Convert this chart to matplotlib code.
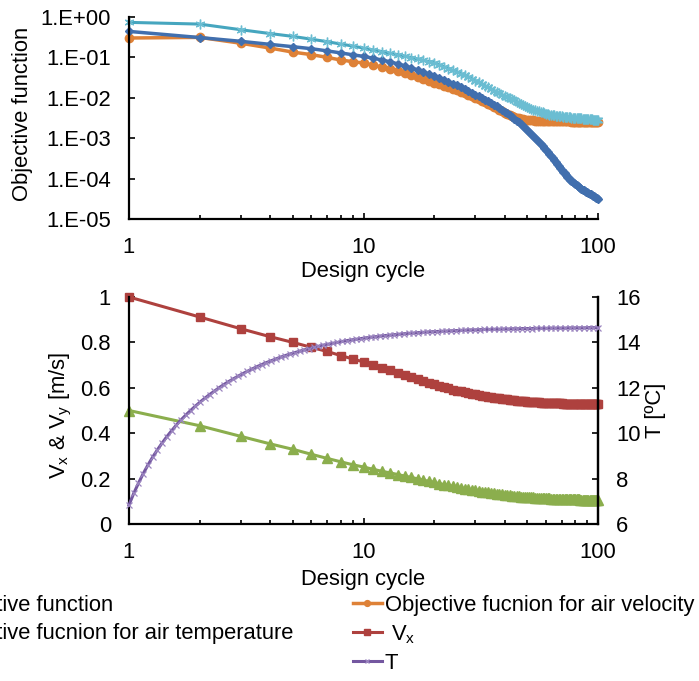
import numpy as np
import matplotlib
matplotlib.use("Agg")
import matplotlib.pyplot as plt
from matplotlib.ticker import FixedLocator, NullFormatter, FuncFormatter, LogLocator
from matplotlib.lines import Line2D

plt.rcParams['font.family'] = ['Liberation Sans', 'DejaVu Sans']
plt.rcParams['mathtext.fontset'] = 'custom'
plt.rcParams['mathtext.rm'] = 'Liberation Sans'
plt.rcParams['mathtext.it'] = 'Liberation Sans'
plt.rcParams['mathtext.default'] = 'regular'

cycles = list(range(1, 101))

# objective functions per design cycle
obj_total = [0.44, 0.31, 0.25, 0.21, 0.184, 0.164, 0.145, 0.129, 0.116, 0.106,
             0.0955, 0.086, 0.0776, 0.0692, 0.0617, 0.055, 0.049, 0.0437, 0.0385, 0.0339,
             0.0305, 0.0275, 0.0248, 0.0224, 0.0202, 0.0182, 0.0164, 0.0148, 0.0133, 0.0120,
             0.0109, 0.00991, 0.00899, 0.00817, 0.00741, 0.00673, 0.00611, 0.00555, 0.00504, 0.00457,
             0.00412, 0.00372, 0.00335, 0.00302, 0.00272, 0.00245, 0.00221, 0.00200, 0.00180, 0.00162,
             1.45e-3, 1.29e-3, 1.16e-3, 1.03e-3, 9.23e-4, 8.24e-4, 7.36e-4, 6.58e-4, 5.87e-4, 5.25e-4,
             4.68e-4, 4.17e-4, 3.72e-4, 3.31e-4, 2.95e-4, 2.63e-4, 2.34e-4, 2.09e-4, 1.86e-4, 1.66e-4,
             1.49e-4, 1.34e-4, 1.21e-4, 1.11e-4, 1.02e-4, 9.40e-5, 8.73e-5, 8.15e-5, 7.64e-5, 7.19e-5,
             6.79e-5, 6.43e-5, 6.11e-5, 5.82e-5, 5.56e-5, 5.32e-5, 5.11e-5, 4.91e-5, 4.73e-5, 4.57e-5,
             4.41e-5, 4.25e-5, 4.09e-5, 3.94e-5, 3.80e-5, 3.66e-5, 3.53e-5, 3.40e-5, 3.28e-5, 3.16e-5]

obj_velocity = [0.302, 0.313, 0.224, 0.170, 0.135, 0.117, 0.100, 0.0861, 0.0785, 0.0724,
                0.0646, 0.0575, 0.0513, 0.0462, 0.0412, 0.0367, 0.0327, 0.0292, 0.0263, 0.0234,
                0.0215, 0.0198, 0.0182, 0.0167, 0.0153, 0.0141, 0.0129, 0.0119, 0.0109, 0.0100,
                0.00918, 0.00843, 0.00774, 0.00711, 0.00653, 0.00600, 0.00551, 0.00506, 0.00465, 0.00427,
                0.00398, 0.00374, 0.00354, 0.00337, 0.00324, 0.00313, 0.00303, 0.00296, 0.00290, 0.00285,
                0.00281, 0.00278, 0.00275, 0.00273, 0.00271, 0.00269, 0.00268, 0.00267, 0.00265, 0.00264,
                0.00264, 0.00264, 0.00263, 0.00263, 0.00263, 0.00262, 0.00262, 0.00262, 0.00261, 0.00261,
                0.00261, 0.00261, 0.00260, 0.00260, 0.00260, 0.00260, 0.00259, 0.00259, 0.00259, 0.00259,
                0.00258, 0.00258, 0.00258, 0.00258, 0.00258, 0.00258, 0.00258, 0.00258, 0.00258, 0.00258,
                0.00257, 0.00257, 0.00257, 0.00257, 0.00257, 0.00257, 0.00257, 0.00257, 0.00257, 0.00257]

obj_temperature = [0.736, 0.668, 0.484, 0.389, 0.331, 0.282, 0.245, 0.214, 0.191, 0.170,
                   0.153, 0.139, 0.127, 0.117, 0.108, 0.0991, 0.0916, 0.0849, 0.0791, 0.0741,
                   0.0661, 0.0593, 0.0531, 0.0482, 0.0437, 0.0398, 0.0365, 0.0330, 0.0296, 0.0266,
                   0.0241, 0.0218, 0.0197, 0.0181, 0.0165, 0.0151, 0.0139, 0.0128, 0.0119, 0.0111,
                   0.0104, 0.0097, 0.0091, 0.0086, 0.0080, 0.0075, 0.0071, 0.0067, 0.0064, 0.0060,
                   0.00566, 0.00538, 0.00513, 0.00495, 0.00480, 0.00463, 0.00448, 0.00435, 0.00421, 0.00408,
                   0.00396, 0.00385, 0.00378, 0.00372, 0.00367, 0.00362, 0.00358, 0.00353, 0.00349, 0.00345,
                   0.00341, 0.00337, 0.00333, 0.00331, 0.00328, 0.00326, 0.00324, 0.00321, 0.00319, 0.00317,
                   0.00315, 0.00313, 0.00311, 0.00309, 0.00308, 0.00305, 0.00303, 0.00302, 0.00300, 0.00298,
                   0.00296, 0.00294, 0.00293, 0.00291, 0.00290, 0.00288, 0.00286, 0.00285, 0.00283, 0.00282]

# inlet air velocity components [m/s]
vx = [1.000, 0.912, 0.860, 0.825, 0.800, 0.778, 0.760, 0.742, 0.727, 0.714,
      0.701, 0.689, 0.678, 0.667, 0.657, 0.648, 0.639, 0.630, 0.622, 0.615,
      0.609, 0.603, 0.597, 0.592, 0.588, 0.584, 0.580, 0.577, 0.574, 0.571,
      0.568, 0.566, 0.563, 0.561, 0.559, 0.557, 0.555, 0.553, 0.552, 0.550,
      0.549, 0.547, 0.546, 0.545, 0.544, 0.543, 0.542, 0.541, 0.540, 0.539,
      0.539, 0.538, 0.537, 0.537, 0.536, 0.536, 0.535, 0.535, 0.534, 0.534,
      0.533, 0.533, 0.533, 0.532, 0.532, 0.532, 0.531, 0.531, 0.531, 0.531,
      0.530, 0.530, 0.530, 0.530, 0.529, 0.529, 0.529, 0.529, 0.529, 0.529,
      0.528, 0.528, 0.528, 0.528, 0.528, 0.528, 0.528, 0.528, 0.528, 0.528,
      0.528, 0.528, 0.527, 0.527, 0.527, 0.527, 0.527, 0.527, 0.527, 0.527]

vy = [0.500, 0.433, 0.386, 0.353, 0.329, 0.307, 0.289, 0.274, 0.261, 0.251,
      0.241, 0.232, 0.225, 0.218, 0.211, 0.205, 0.199, 0.193, 0.188, 0.183,
      0.178, 0.174, 0.170, 0.166, 0.162, 0.159, 0.156, 0.153, 0.150, 0.148,
      0.145, 0.143, 0.141, 0.139, 0.137, 0.135, 0.133, 0.132, 0.130, 0.129,
      0.127, 0.126, 0.125, 0.124, 0.123, 0.122, 0.121, 0.120, 0.119, 0.119,
      0.118, 0.117, 0.117, 0.116, 0.116, 0.115, 0.115, 0.114, 0.114, 0.113,
      0.113, 0.113, 0.112, 0.112, 0.112, 0.111, 0.111, 0.111, 0.110, 0.110,
      0.110, 0.110, 0.109, 0.109, 0.109, 0.109, 0.109, 0.108, 0.108, 0.108,
      0.108, 0.108, 0.108, 0.107, 0.107, 0.107, 0.107, 0.107, 0.107, 0.107,
      0.107, 0.107, 0.107, 0.106, 0.106, 0.106, 0.106, 0.106, 0.106, 0.106]

# inlet air temperature [C], plotted on the secondary (linear) x axis
temp = [6.84, 7.35, 7.80, 8.22, 8.60, 8.95, 9.27, 9.57, 9.85, 10.11,
        10.36, 10.59, 10.80, 11.00, 11.19, 11.37, 11.54, 11.70, 11.85, 12.00,
        12.14, 12.27, 12.39, 12.51, 12.62, 12.73, 12.83, 12.93, 13.02, 13.11,
        13.19, 13.27, 13.35, 13.42, 13.49, 13.55, 13.61, 13.67, 13.73, 13.78,
        13.83, 13.88, 13.92, 13.96, 14.00, 14.04, 14.08, 14.11, 14.14, 14.17,
        14.20, 14.23, 14.25, 14.28, 14.30, 14.32, 14.34, 14.36, 14.38, 14.40,
        14.41, 14.43, 14.44, 14.46, 14.47, 14.48, 14.49, 14.50, 14.51, 14.52,
        14.53, 14.54, 14.55, 14.55, 14.56, 14.57, 14.57, 14.58, 14.58, 14.59,
        14.59, 14.60, 14.60, 14.61, 14.61, 14.61, 14.62, 14.62, 14.62, 14.63,
        14.63, 14.63, 14.63, 14.64, 14.64, 14.64, 14.64, 14.65, 14.65, 14.65]

x_ticks = [1, 10, 100]
obj_ticks = [1e-5, 1e-4, 1e-3, 1e-2, 1e-1, 1e0]
v_ticks = [0, 0.2, 0.4, 0.6, 0.8, 1]
t_ticks = [6, 8, 10, 12, 14, 16]

c_blue = '#416FAE'
c_orange = '#DE8137'
c_teal = '#46A6BF'
c_red = '#AE413E'
c_green = '#8BAE4D'
c_purple = '#7457A0'

FS = 15.8
W, H = 699, 681
fig = plt.figure(figsize=(W / 100, H / 100), dpi=100)

def style_x(ax):
    ax.set_xscale('log')
    ax.set_xlim(1, 100)
    ax.xaxis.set_major_locator(FixedLocator(x_ticks))
    ax.xaxis.set_major_formatter(FuncFormatter(lambda v, p: '%g' % v))
    ax.xaxis.set_minor_locator(LogLocator(base=10, subs=np.arange(2, 10)))
    ax.xaxis.set_minor_formatter(NullFormatter())
    ax.tick_params(axis='x', which='major', direction='in', length=4.5, width=1.2,
                   pad=13, labelsize=FS)
    ax.tick_params(axis='x', which='minor', direction='in', length=3.2, width=1.2)
    ax.set_xlabel('Design cycle', fontsize=FS)

# ---- top: objective functions ----
ax1 = fig.add_axes([129 / W, 1 - 219 / H, 469 / W, 202 / H])
style_x(ax1)
ax1.set_yscale('log')
ax1.set_ylim(1e-5, 1)
ax1.yaxis.set_major_locator(FixedLocator(obj_ticks))
ax1.yaxis.set_major_formatter(FuncFormatter(lambda v, p: '1.E%+03d' % round(np.log10(v))))
ax1.yaxis.set_minor_locator(LogLocator(base=10, subs=np.arange(2, 10)))
ax1.yaxis.set_minor_formatter(NullFormatter())
ax1.tick_params(axis='y', which='major', direction='in', length=4.5, width=1.2,
                pad=13, labelsize=FS)
ax1.tick_params(axis='y', which='minor', direction='in', length=3, width=1.0)
for s in ['top', 'right']:
    ax1.spines[s].set_visible(False)
for s in ['left', 'bottom']:
    ax1.spines[s].set_linewidth(1.6)

l_vel, = ax1.plot(cycles, obj_velocity, color=c_orange, lw=2.5, marker='o', ms=6,
                  mec=c_orange, clip_on=False)
l_tot, = ax1.plot(cycles, obj_total, color=c_blue, lw=2.5, marker='D', ms=4.5,
                  mec=c_blue, clip_on=False)
l_tmp, = ax1.plot(cycles, obj_temperature, color=c_teal, lw=2.2, marker=(6, 2, 0), ms=7,
                  mew=1.0, mec='#6BBDD2', clip_on=False)
ax1.set_ylabel('Objective function', fontsize=FS)
ax1.yaxis.set_label_coords(-0.205, 0.52)
ax1.xaxis.set_label_coords(0.5, -0.21)

# ---- bottom: design variables ----
ax2 = fig.add_axes([129 / W, 1 - 524 / H, 469 / W, 227 / H])
style_x(ax2)
ax2.set_ylim(0, 1)
ax2.yaxis.set_major_locator(FixedLocator(v_ticks))
ax2.yaxis.set_major_formatter(FuncFormatter(lambda v, p: '%g' % v))
ax2.tick_params(axis='y', direction='in', length=4.5, width=1.2, pad=13, labelsize=FS)
ax2.spines['top'].set_visible(False)
for s in ['left', 'bottom', 'right']:
    ax2.spines[s].set_linewidth(1.6)

l_vx, = ax2.plot(cycles, vx, color=c_red, lw=2.2, marker='s', ms=6, mec=c_red, clip_on=False)
l_vy, = ax2.plot(cycles, vy, color=c_green, lw=2.2, marker='^', ms=6.5, mec=c_green, clip_on=False)
ax2.set_ylabel('$V_x$ & $V_y$ [m/s]', fontsize=FS)
ax2.yaxis.set_label_coords(-0.118, 0.48)
ax2.xaxis.set_label_coords(0.5, -0.20)

ax3 = ax2.twinx()
ax3.set_ylim(6, 16)
ax3.yaxis.set_major_locator(FixedLocator(t_ticks))
ax3.tick_params(axis='y', direction='in', length=4.5, width=1.2, pad=13, labelsize=FS)
for s in ['top', 'left', 'bottom']:
    ax3.spines[s].set_visible(False)
ax3.spines['right'].set_linewidth(1.6)
ax3.set_ylabel('T [ºC]', fontsize=FS)
ax3.yaxis.set_label_coords(1.10, 0.50)

ax4 = ax3.twiny()
ax4.set_xlim(1, 100)
ax4.xaxis.set_visible(False)
for s in ax4.spines.values():
    s.set_visible(False)
l_t, = ax4.plot(cycles, temp, color=c_purple, lw=2.2, marker='x', ms=5, mew=0.9,
                mec='#9C86C0', clip_on=False)

# ---- legend below both panels ----
handles = [l_tot, l_tmp, l_vy, l_vel, l_vx, l_t]
labels = ['Objective function', 'Objective fucnion for air temperature', ' $V_y$',
          'Objective fucnion for air velocity', ' $V_x$', 'T']
leg_handles = []
for h in handles:
    leg_handles.append(Line2D([], [], color=h.get_color(), lw=h.get_linewidth(),
                              marker=h.get_marker(), ms=h.get_markersize() * 0.7,
                              mec=h.get_markeredgecolor(), mew=h.get_markeredgewidth()))
fig.legend(leg_handles, labels, ncol=2, loc='upper right', bbox_to_anchor=(703 / W, 1 - 586 / H),
           frameon=False, fontsize=FS, handlelength=1.3, handletextpad=0.15,
           columnspacing=2.7, labelspacing=0.33, borderaxespad=0, borderpad=0.4)

fig.savefig('out.png', dpi=100)
